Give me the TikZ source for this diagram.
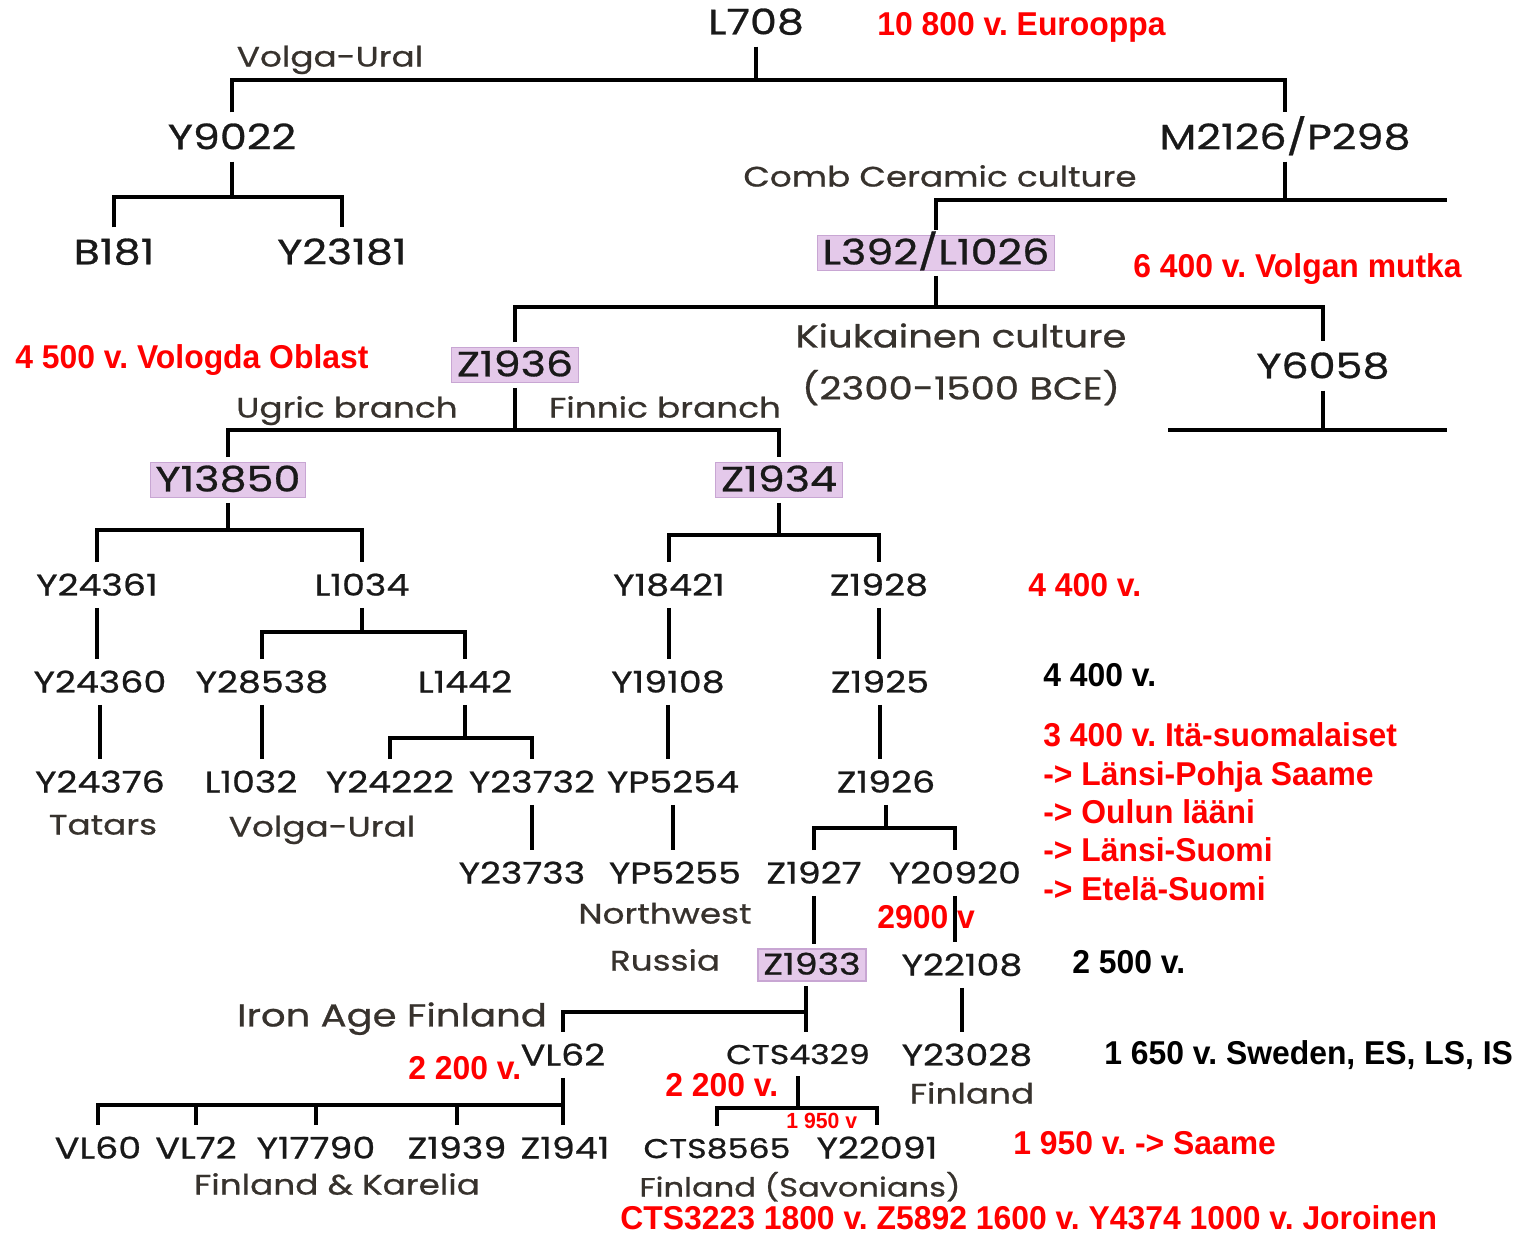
\documentclass[tikz,border=0pt]{standalone}
\usepackage{fontspec}
\newfontfamily\treefont{Poppins}[FakeStretch=1.22, FakeBold=0.8]
\newfontfamily\notefont{Liberation Sans}[FakeStretch=0.965]
\definecolor{hlfill}{RGB}{228,201,234}
\definecolor{hlline}{RGB}{200,166,211}
\definecolor{cultgray}{RGB}{55,50,45}
\frenchspacing
\tikzset{
  branch/.style={line width=2.3pt},
  hap/.style={font=\treefont\fontsize{17pt}{20pt}\selectfont, text=black!90,
    inner sep=0pt, text height=12pt, text depth=0pt, outer ysep=7pt},
  haptop/.style={hap, font=\treefont\fontsize{20pt}{24pt}\selectfont, text height=14pt},
  hapbox/.style={haptop, fill=hlfill, draw=hlline, line width=0.8pt,
    inner xsep=3pt, inner ysep=2.5pt, outer ysep=3pt, text depth=1pt},
  hapnarrow/.style={hap, font=\treefont\fontsize{15.5pt}{19pt}\selectfont, text height=11.5pt},
  culture/.style={font=\treefont\fontsize{16pt}{19pt}\selectfont, text=cultgray,
    inner sep=0pt, text height=12pt, text depth=0pt},
  culturebig/.style={culture, font=\treefont\fontsize{18pt}{21pt}\selectfont, text height=13pt},
  note/.style={font=\notefont\bfseries\fontsize{18.8pt}{22pt}\selectfont, text=red,
    anchor=west, inner sep=0pt, text height=13.4pt, text depth=0pt},
  noteblk/.style={note, text=black},
}
\begin{document}
\begin{tikzpicture}[x=0.02cm,y=-0.02cm]
  \useasboundingbox (0,0) rectangle (1529,1234);

  % upper tree
  \node[haptop] (L708) at (756,22) {L708};
  \node[culture] (volgaTop) at (330,56) {Volga-Ural};
  \node[haptop] (Y9022) at (232,137) {Y9022};
  \node[haptop] (M2126) at (1285,137) {M2126/P298};
  \node[culture] (comb) at (940,176) {Comb Ceramic culture};
  \node[haptop] (B181) at (114,252) {B181};
  \node[haptop] (Y23181) at (342,252) {Y23181};
  \node[hapbox] (L392) at (936,253) {L392/L1026};
  \node[culturebig] (kiuk) at (961,336) {Kiukainen culture};
  \node[culturebig] (kiukDate) at (961,388) {(2300-1500 BCE)};
  \node[hapbox] (Z1936) at (515,365) {Z1936};
  \node[haptop] (Y6058) at (1323,366) {Y6058};
  \node[culture] (ugric) at (347,407) {Ugric branch};
  \node[culture] (finnic) at (665,407) {Finnic branch};
  \node[hapbox] (Y13850) at (228,480) {Y13850};
  \node[hapbox] (Z1934) at (779,480) {Z1934};

  % lower tree, row by row
  \foreach \n/\x in {Y24361/97, L1034/362, Y18421/669, Z1928/879}
    \node[hap] (\n) at (\x,585) {\n};
  \foreach \n/\x in {Y24360/100, Y28538/262, L1442/465, Y19108/668, Z1925/880}
    \node[hap] (\n) at (\x,682) {\n};
  \foreach \n/\x in {Y24376/100, L1032/251, Y24222/390, Y23732/532, YP5254/673, Z1926/886}
    \node[hap] (\n) at (\x,782) {\n};
  \foreach \n/\x in {Y23733/522, YP5255/675, Z1927/814, Y20920/955}
    \node[hap] (\n) at (\x,873) {\n};
  \node[hapbox, font=\treefont\fontsize{17pt}{20pt}\selectfont, text height=12pt] (Z1933) at (812,965) {Z1933};
  \node[hap] (Y22108) at (962,965) {Y22108};
  \node[hap] (VL62) at (563,1055) {VL62};
  \node[hapnarrow] (CTS4329) at (798,1054) {CTS4329};
  \node[hap] (Y23028) at (967,1055) {Y23028};
  \foreach \n/\x in {VL60/98, VL72/196, Y17790/316, Z1939/457, Z1941/565, Y22091/877}
    \node[hap] (\n) at (\x,1148) {\n};
  \node[hapnarrow] (CTS8565) at (717,1148) {CTS8565};

  % group labels
  \node[culture] (tatars) at (103,824) {Tatars};
  \node[culture] (volgaLow) at (322,826) {Volga-Ural};
  \node[culture] (northwest) at (665,913) {Northwest};
  \node[culture] (russia) at (665,960) {Russia};
  \node[culturebig] (ironAge) at (392,1015) {Iron Age Finland};
  \node[culture] (finland) at (972,1093) {Finland};
  \node[culture] (karelia) at (337,1184) {Finland \& Karelia};
  \node[culture, font=\treefont\fontsize{15pt}{18pt}\selectfont] (savo) at (800,1186) {Finland (Savonians)};

  % junctions
  \coordinate (jL708) at (756,80);
  \coordinate (jY9022) at (232,197);
  \coordinate (jM2126) at (1285,200);
  \coordinate (cutM) at (1447,200);
  \coordinate (jL392) at (936,307);
  \coordinate (jY6058) at (1323,430);
  \coordinate (cutA) at (1168,430);
  \coordinate (cutB) at (1447,430);
  \coordinate (jZ1936) at (515,430);
  \coordinate (jY13850) at (228,530);
  \coordinate (jZ1934) at (779,535);
  \coordinate (jL1034) at (362,632);
  \coordinate (jL1442) at (465,738);
  \coordinate (jZ1926) at (886,828);
  \coordinate (jZ1933) at (806,1012);
  \coordinate (jVL62) at (563,1105);
  \coordinate (jCTS) at (798,1108);

  % branches
  \draw[branch] (L708) -- (jL708);
  \draw[branch] (Y9022) |- (jL708) -| (M2126);
  \draw[branch] (Y9022) -- (jY9022);
  \draw[branch] (B181) |- (jY9022) -| (Y23181);
  \draw[branch] (M2126) -- (jM2126);
  \draw[branch] (L392) |- (cutM);
  \draw[branch] (L392) -- (jL392);
  \draw[branch] (Z1936) |- (jL392) -| (Y6058);
  \draw[branch] (Y6058) -- (jY6058);
  \draw[branch] (cutA) -- (cutB);
  \draw[branch] (Z1936) -- (jZ1936);
  \draw[branch] (Y13850) |- (jZ1936) -| (Z1934);
  \draw[branch] (Y13850) -- (jY13850);
  \draw[branch] (Y24361) |- (jY13850) -| (L1034);
  \draw[branch] (Z1934) -- (jZ1934);
  \draw[branch] (Y18421) |- (jZ1934) -| (Z1928);
  \draw[branch] (Y24361.south) -- (Y24361.south |- Y24360.north);
  \draw[branch] (L1034) -- (jL1034);
  \draw[branch] (Y28538) |- (jL1034) -| (L1442);
  \draw[branch] (Y18421.south) -- (Y18421.south |- Y19108.north);
  \draw[branch] (Z1928.south) -- (Z1928.south |- Z1925.north);
  \draw[branch] (Y24360.south) -- (Y24360.south |- Y24376.north);
  \draw[branch] (Y28538.south) -- (Y28538.south |- L1032.north);
  \draw[branch] (L1442) -- (jL1442);
  \draw[branch] (Y24222) |- (jL1442) -| (Y23732);
  \draw[branch] (Y19108.south) -- (Y19108.south |- YP5254.north);
  \draw[branch] (Z1925.south) -- (Z1925.south |- Z1926.north);
  \draw[branch] (Y23732.south) -- (Y23732.south |- Y23733.north);
  \draw[branch] (YP5254.south) -- (YP5254.south |- YP5255.north);
  \draw[branch] (Z1926) -- (jZ1926);
  \draw[branch] (Z1927) |- (jZ1926) -| (Y20920);
  \draw[branch] (Z1927.south) -- (Z1927.south |- Z1933.north);
  \draw[branch] (Y20920.south) -- (Y20920.south |- Y22108.north);
  \draw[branch] (jZ1933 |- Z1933.south) -- (jZ1933 |- CTS4329.north);
  \draw[branch] (jZ1933) -| (VL62);
  \draw[branch] (Y22108.south) -- (Y22108.south |- Y23028.north);
  \draw[branch] (VL62.south) -- (VL62.south |- Z1941.north);
  \draw[branch] (VL60) |- (jVL62);
  \draw[branch] (VL72) -- (VL72 |- jVL62);
  \draw[branch] (Y17790) -- (Y17790 |- jVL62);
  \draw[branch] (Z1939) -- (Z1939 |- jVL62);
  \draw[branch] (CTS4329) -- (jCTS);
  \draw[branch] (CTS8565) |- (jCTS) -| (Y22091);

  % dates and notes
  \node[note] (n10800) at (877,24) {10 800 v. Eurooppa};
  \node[note] (n6400) at (1133,266) {6 400 v. Volgan mutka};
  \node[note] (n4500) at (15,357) {4 500 v. Vologda Oblast};
  \node[note] (n4400) at (1028,585) {4 400 v.};
  \node[noteblk] (k4400) at (1043,675) {4 400 v.};
  \node[note] (n3400) at (1043,735) {3 400 v. Itä-suomalaiset};
  \node[note] (toPohja) at (1043,774) {-> Länsi-Pohja Saame};
  \node[note] (toOulu) at (1043,812) {-> Oulun lääni};
  \node[note] (toLansi) at (1043,850) {-> Länsi-Suomi};
  \node[note] (toEtela) at (1043,889) {-> Etelä-Suomi};
  \node[note] (n2900) at (877,917) {2900 v};
  \node[noteblk] (k2500) at (1072,962) {2 500 v.};
  \node[note] (n2200a) at (408,1068) {2 200 v.};
  \node[note] (n2200b) at (665,1085) {2 200 v.};
  \node[noteblk] (k1650) at (1104,1053) {1 650 v. Sweden, ES, LS, IS};
  \node[note, font=\notefont\bfseries\fontsize{12.5pt}{15pt}\selectfont, text height=9pt] (n1950s) at (786,1121) {1 950 v};
  \node[note] (n1950) at (1013,1143) {1 950 v. -> Saame};
  \node[note] (nJoro) at (620,1218) {CTS3223 1800 v. Z5892 1600 v. Y4374 1000 v. Joroinen};
\end{tikzpicture}
\end{document}
